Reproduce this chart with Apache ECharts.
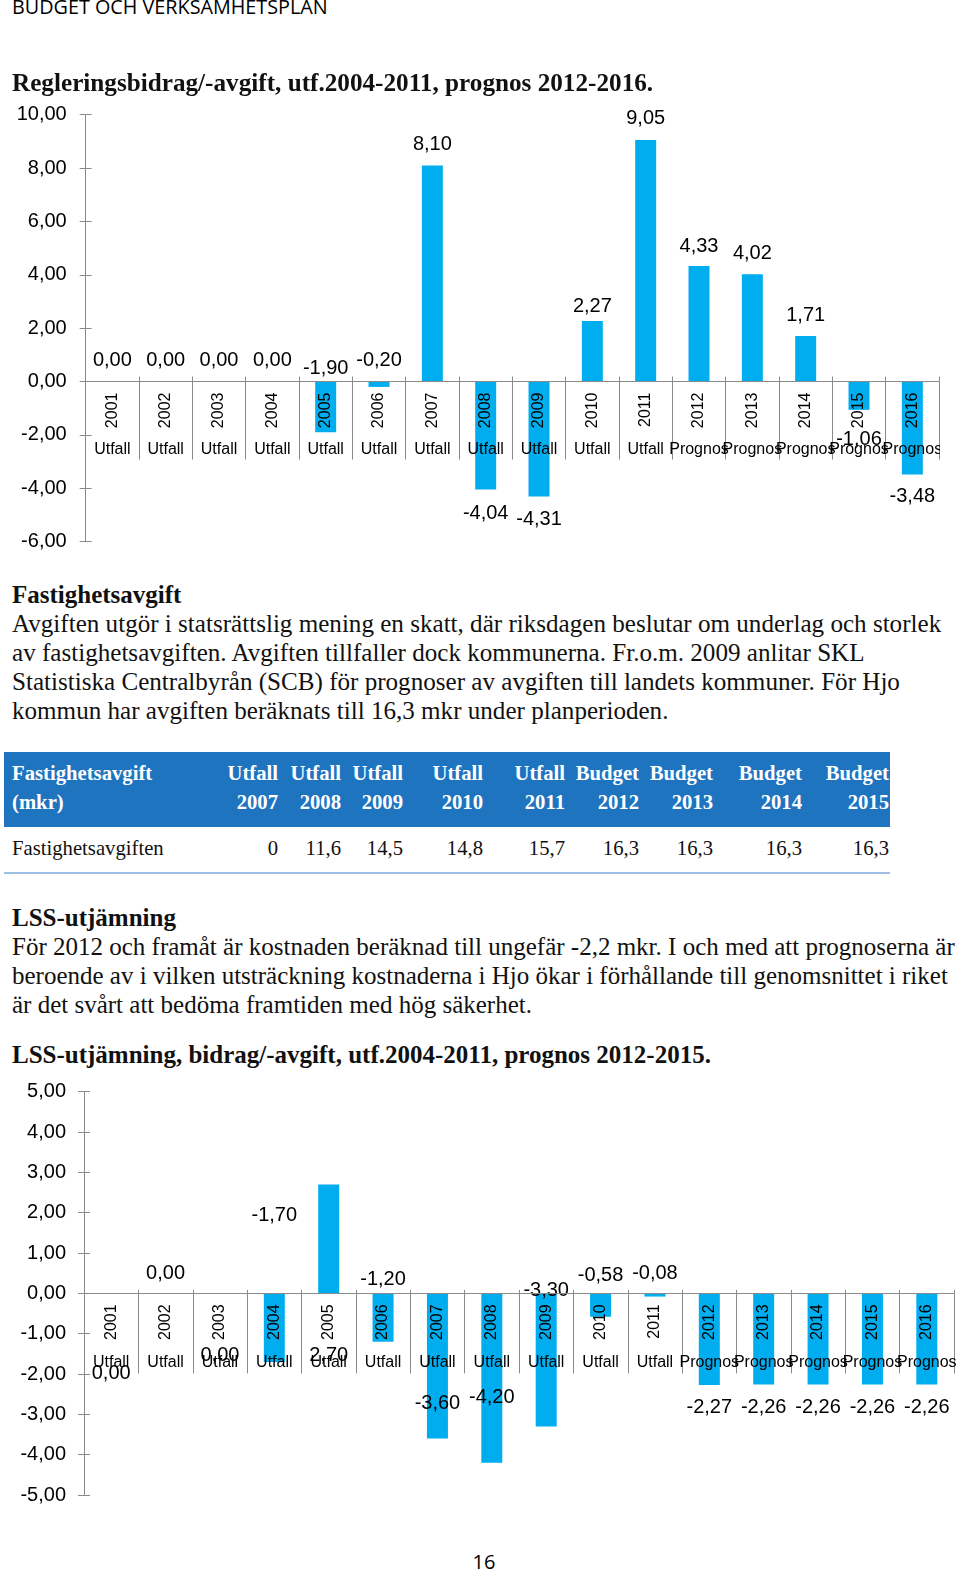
<!DOCTYPE html>
<html><head><meta charset="utf-8">
<script src="https://cdn.jsdelivr.net/npm/echarts@6/dist/echarts.min.js"></script>
<style>
html,body{margin:0;padding:0;background:#fff;}
body{width:960px;height:1574px;position:relative;overflow:hidden;}
.t{position:absolute;white-space:nowrap;color:#111;}
#band{position:absolute;left:4px;top:752px;width:886px;height:75px;background:#1f74c0;overflow:hidden;}
#rule{position:absolute;left:4px;top:872px;width:886px;height:2px;background:#9cbfe2;}
</style></head><body>
<div id="band"></div>
<div id="rule"></div>
<div id="c1" style="position:absolute;left:0;top:95px;width:940px;height:470px"></div>
<div id="c2" style="position:absolute;left:0;top:1068px;width:956px;height:450px"></div>
<script>
// ---------- data ----------
const years = ['2001','2002','2003','2004','2005','2006','2007','2008','2009','2010','2011','2012','2013','2014','2015','2016'];
const kinds = ['Utfall','Utfall','Utfall','Utfall','Utfall','Utfall','Utfall','Utfall','Utfall','Utfall','Utfall','Prognos','Prognos','Prognos','Prognos','Prognos'];
const regValues = [0, 0, 0, 0, -1.90, -0.20, 8.10, -4.04, -4.31, 2.27, 9.05, 4.33, 4.02, 1.71, -1.06, -3.48];
const lssValues = [0, 0, 0, -1.70, 2.70, -1.20, -3.60, -4.20, -3.30, -0.58, -0.08, -2.27, -2.26, -2.26, -2.26, -2.26];
const regTicks = {min: -6, max: 10, step: 2};
const lssTicks = {min: -5, max: 5, step: 1};

const tableHeadTop = ['Utfall','Utfall','Utfall','Utfall','Utfall','Budget','Budget','Budget','Budget'];
const tableHeadYears = ['2007','2008','2009','2010','2011','2012','2013','2014','2015'];
const fastValues = [0, 11.6, 14.5, 14.8, 15.7, 16.3, 16.3, 16.3, 16.3];

const pageHeader = 'BUDGET OCH VERKSAMHETSPLAN';
const title1 = 'Regleringsbidrag/-avgift, utf.2004-2011, prognos 2012-2016.';
const head2 = 'Fastighetsavgift';
const para2 = [
 'Avgiften utgör i statsrättslig mening en skatt, där riksdagen beslutar om underlag och storlek',
 'av fastighetsavgiften. Avgiften tillfaller dock kommunerna. Fr.o.m. 2009 anlitar SKL',
 'Statistiska Centralbyrån (SCB) för prognoser av avgiften till landets kommuner. För Hjo',
 'kommun har avgiften beräknats till 16,3 mkr under planperioden.'
];
const head3 = 'LSS-utjämning';
const para3 = [
 'För 2012 och framåt är kostnaden beräknad till ungefär -2,2 mkr. I och med att prognoserna är',
 'beroende av i vilken utsträckning kostnaderna i Hjo ökar i förhållande till genomsnittet i riket',
 'är det svårt att bedöma framtiden med hög säkerhet.'
];
const title2 = 'LSS-utjämning, bidrag/-avgift, utf.2004-2011, prognos 2012-2015.';
const pageNo = '16';

// ---------- styles (label placement per bar) ----------
const regLabelPlace = [['top',11],['top',11],['top',11],['top',11],['top',3],['top',11],['top',11],
  ['bottom',14],['bottom',13],['top',5],['top',12],['top',10],['top',11],['top',10],['bottom',20],['bottom',12]];
const lssLabelPlace = [['bottom',70],['top',10],['bottom',52],['top',68],['bottom',52],['top',4],
  ['insideBottom',25],['insideBottom',55],['top',-7],['top',8],['top',10],
  ['bottom',13],['bottom',13],['bottom',13],['bottom',13],['bottom',13]];
const colRight = [278, 341, 403, 483, 565, 639, 713, 802, 889];

// ---------- text ----------
const SERIF = '"Liberation Serif","Times New Roman",serif';
const SANS = '"Liberation Sans",Arial,sans-serif';
const OPEN = '"Open Sans",sans-serif';
const K = {serif: 0.8375, sans: 0.8465, open: 0.888};
function addText(parent, txt, x, baseline, size, opts) {
  opts = opts || {};
  const d = document.createElement('div');
  d.className = 't';
  d.textContent = txt;
  const fam = opts.fam || 'serif';
  d.style.fontFamily = fam === 'serif' ? SERIF : (fam === 'open' ? OPEN : SANS);
  d.style.fontSize = size + 'px';
  d.style.lineHeight = size + 'px';
  d.style.fontWeight = opts.bold ? 'bold' : 'normal';
  if (opts.color) d.style.color = opts.color;
  d.style.top = (baseline - K[fam] * size) + 'px';
  if (opts.right !== undefined) { d.style.right = (opts.parentW - opts.right) + 'px'; }
  else if (opts.center) { d.style.left = (x - 100) + 'px'; d.style.width = '200px'; d.style.textAlign = 'center'; }
  else d.style.left = x + 'px';
  parent.appendChild(d);
  return d;
}
const B = document.body;
addText(B, pageHeader, 12, 15, 19.8, {fam: 'open', color: '#000'});
addText(B, title1, 12, 91, 25.2, {bold: true});
addText(B, head2, 12, 603, 25, {bold: true});
para2.forEach((l, i) => addText(B, l, 12, 632 + 29 * i, 25.1));
addText(B, head3, 12, 926, 25, {bold: true});
para3.forEach((l, i) => addText(B, l, 12, 955 + 29 * i, 25));
addText(B, title2, 12, 1063, 25, {bold: true});
addText(B, pageNo, 484, 1570, 20, {fam: 'open', center: true, color: '#000'});

// table
const band = document.getElementById('band');
const bx = 4, by = 752;
addText(band, 'Fastighetsavgift', 12 - bx, 780 - by, 20.7, {bold: true, color: '#fff'});
addText(band, '(mkr)', 12 - bx, 809 - by, 20.7, {bold: true, color: '#fff'});
colRight.forEach((r, i) => {
  addText(band, tableHeadTop[i], 0, 780 - by, 20.7, {bold: true, color: '#fff', right: r - bx, parentW: 886});
  addText(band, tableHeadYears[i], 0, 809 - by, 20.7, {bold: true, color: '#fff', right: r - bx, parentW: 886});
});
addText(B, 'Fastighetsavgiften', 12, 855, 20.7);
colRight.forEach((r, i) => {
  addText(B, String(fastValues[i]).replace('.', ','), 0, 855, 20.7, {right: r, parentW: 960});
});

// ---------- charts ----------
const fmt = v => Number(v).toFixed(2).replace('.', ',');
const AX = '#8a8a8a';
function makeOption(values, place, ticks, grid, yearTick, upTick, utfallMargin, yLabMargin) {
  // category axes sit on the value 0 line: shift them up from the grid bottom by the scale's position of 0
  const zeroShift = -(0 - ticks.min) / (ticks.max - ticks.min) * grid[3];
  return {
    animation: false,
    grid: {left: grid[0], top: grid[1], width: grid[2], height: grid[3], containLabel: false, outerBoundsMode: 'none'},
    xAxis: [
      {type: 'category', data: years, position: 'bottom', offset: zeroShift, z: 5,
       axisLine: {show: true, onZero: false, lineStyle: {color: AX, width: 1}},
       axisTick: {show: true, length: yearTick, inside: false, lineStyle: {color: AX}},
       axisLabel: {interval: 0, hideOverlap: false, rotate: 90, margin: 11, fontFamily: SANS, fontSize: 16, color: '#000'},
       splitLine: {show: false}},
      {type: 'category', data: kinds, position: 'bottom', offset: zeroShift, z: 5,
       axisLine: {show: true, onZero: false, lineStyle: {color: AX, width: 1}},
       axisTick: {show: true, length: upTick, inside: true, lineStyle: {color: AX}},
       axisLabel: {interval: 0, hideOverlap: false, margin: utfallMargin, fontFamily: SANS, fontSize: 16, color: '#000'},
       splitLine: {show: false}}
    ],
    yAxis: [
      {type: 'value', min: ticks.min, max: ticks.max, interval: ticks.step, position: 'left',
       axisLine: {show: true, onZero: false, lineStyle: {color: AX}},
       axisTick: {show: true, length: 6, inside: false, lineStyle: {color: AX}},
       axisLabel: {margin: yLabMargin, formatter: fmt, fontFamily: SANS, fontSize: 20, color: '#000'},
       splitLine: {show: false}},
      {type: 'value', min: ticks.min, max: ticks.max, interval: ticks.step, position: 'left',
       axisLine: {show: false, onZero: false},
       axisTick: {show: true, length: 6, inside: true, lineStyle: {color: AX}},
       axisLabel: {show: false}, splitLine: {show: false}}
    ],
    series: [{
      type: 'bar', xAxisIndex: 0, yAxisIndex: 0, barWidth: 21, z: 2,
      itemStyle: {color: '#00aeef'},
      data: values.map((v, i) => ({
        value: v,
        label: {show: true, position: place[i][0], distance: place[i][1]}
      })),
      label: {show: true, formatter: p => fmt(p.value), fontFamily: SANS, fontSize: 20, color: '#000'}
    }]
  };
}
const c1 = echarts.init(document.getElementById('c1'), null, {renderer: 'canvas'});
c1.setOption(makeOption(regValues, regLabelPlace, regTicks, [85.7, 19.7, 853.3, 427], 78, 5, 60, 19));
const c2 = echarts.init(document.getElementById('c2'), null, {renderer: 'canvas'});
c2.setOption(makeOption(lssValues, lssLabelPlace, lssTicks, [84, 23.7, 870, 403.3], 80, 3.5, 61, 18));
</script>
</body></html>
